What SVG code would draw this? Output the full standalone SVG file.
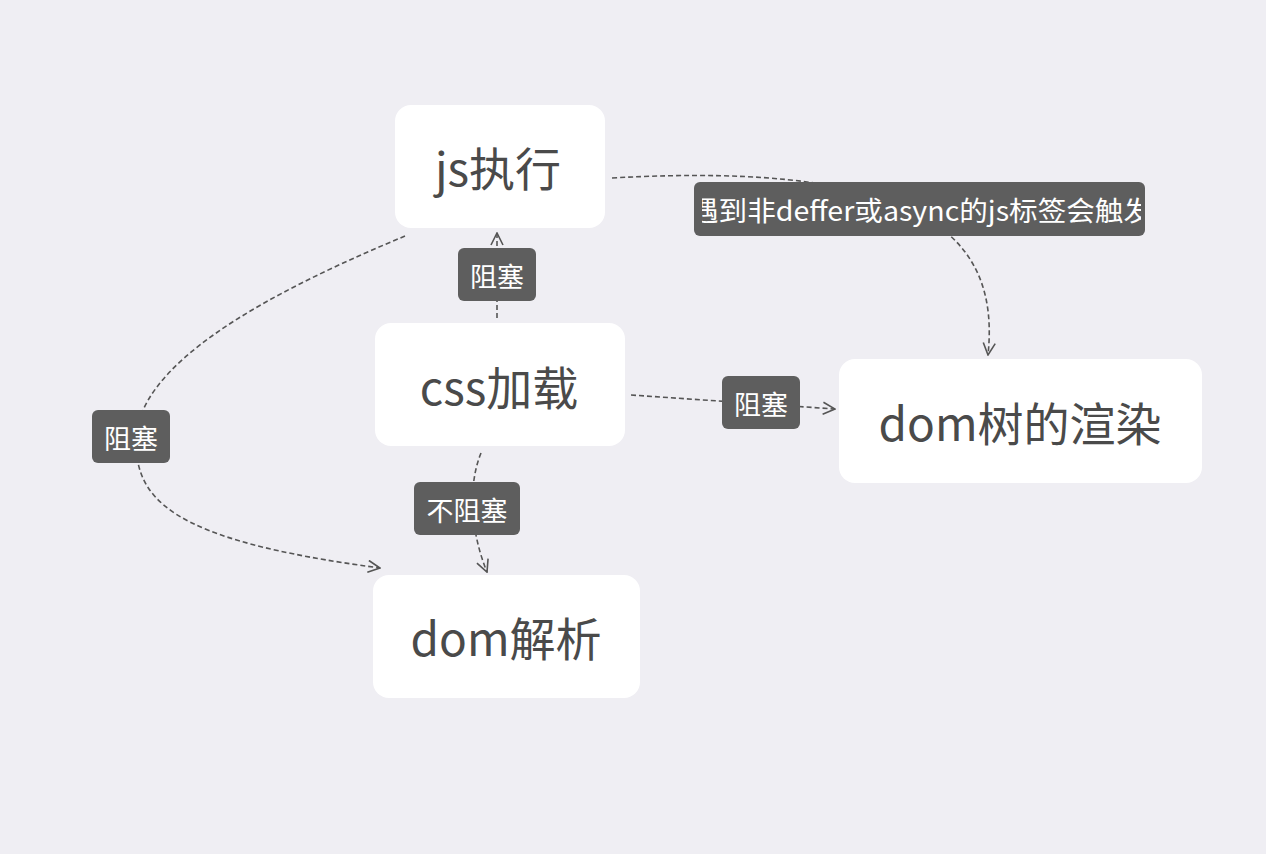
<svg xmlns="http://www.w3.org/2000/svg" width="1266" height="854" viewBox="0 0 1266 854">
<style>
.node rect{fill:#ffffff}
.node text{font-family:"Noto Sans CJK SC","Noto Sans",sans-serif;font-size:46px;fill:#4a4a4a;text-anchor:middle;dominant-baseline:central}
.lbl rect{fill:#5e5e5e}
.lbl text{font-family:"Noto Sans CJK SC","Noto Sans",sans-serif;font-size:27px;fill:#ffffff;text-anchor:middle;dominant-baseline:central}
.edge{fill:none;stroke:#555555;stroke-width:1.6;stroke-dasharray:5 3}
</style>
<defs>
<marker id="arr" viewBox="0 0 14 14" refX="13" refY="7" markerWidth="14" markerHeight="14" markerUnits="userSpaceOnUse" orient="auto">
<path d="M1,1 L13,7 L1,13" fill="none" stroke="#555555" stroke-width="1.6"/>
</marker>
<clipPath id="clipTop"><rect x="702" y="182" width="439" height="54"/></clipPath>
</defs>
<rect width="1266" height="854" fill="#efeef3"/>
<g id="connectors">
<path class="edge" d="M612,178 C930,160 1000,240 988,355" marker-end="url(#arr)"/>
<path class="edge" d="M497,318 L497,233" marker-end="url(#arr)"/>
<path class="edge" d="M631,395 L835,409" marker-end="url(#arr)"/>
<path class="edge" d="M481,453 C468,485 470,530 487,572" marker-end="url(#arr)"/>
<path class="edge" d="M405,236 C300,280 150,350 137,430 C130,500 170,540 380,568" marker-end="url(#arr)"/>
</g>
<g id="node-js" class="node">
<rect x="395" y="105" width="210" height="123" rx="16"/>
<text x="498" y="166">js执行</text>
</g>
<g id="node-css" class="node">
<rect x="375" y="323" width="250" height="123" rx="16"/>
<text x="499" y="385">css加载</text>
</g>
<g id="node-render" class="node">
<rect x="839" y="359" width="363" height="124" rx="16"/>
<text x="1020" y="421">dom树的渲染</text>
</g>
<g id="node-parse" class="node">
<rect x="373" y="575" width="267" height="123" rx="16"/>
<text x="506" y="636">dom解析</text>
</g>
<g id="label-trigger" class="lbl">
<rect x="694" y="182" width="451" height="54" rx="6"/>
<text x="921" y="209" textLength="462" lengthAdjust="spacingAndGlyphs" clip-path="url(#clipTop)">遇到非deffer或async的js标签会触发</text>
</g>
<g id="label-block-top" class="lbl">
<rect x="458" y="248" width="78" height="53" rx="6"/>
<text x="497" y="275">阻塞</text>
</g>
<g id="label-block-right" class="lbl">
<rect x="722" y="376" width="78" height="53" rx="6"/>
<text x="761" y="403">阻塞</text>
</g>
<g id="label-block-left" class="lbl">
<rect x="92" y="410" width="78" height="53" rx="6"/>
<text x="131" y="437">阻塞</text>
</g>
<g id="label-nonblock" class="lbl">
<rect x="414" y="482" width="106" height="53" rx="6"/>
<text x="467" y="509">不阻塞</text>
</g>
</svg>
